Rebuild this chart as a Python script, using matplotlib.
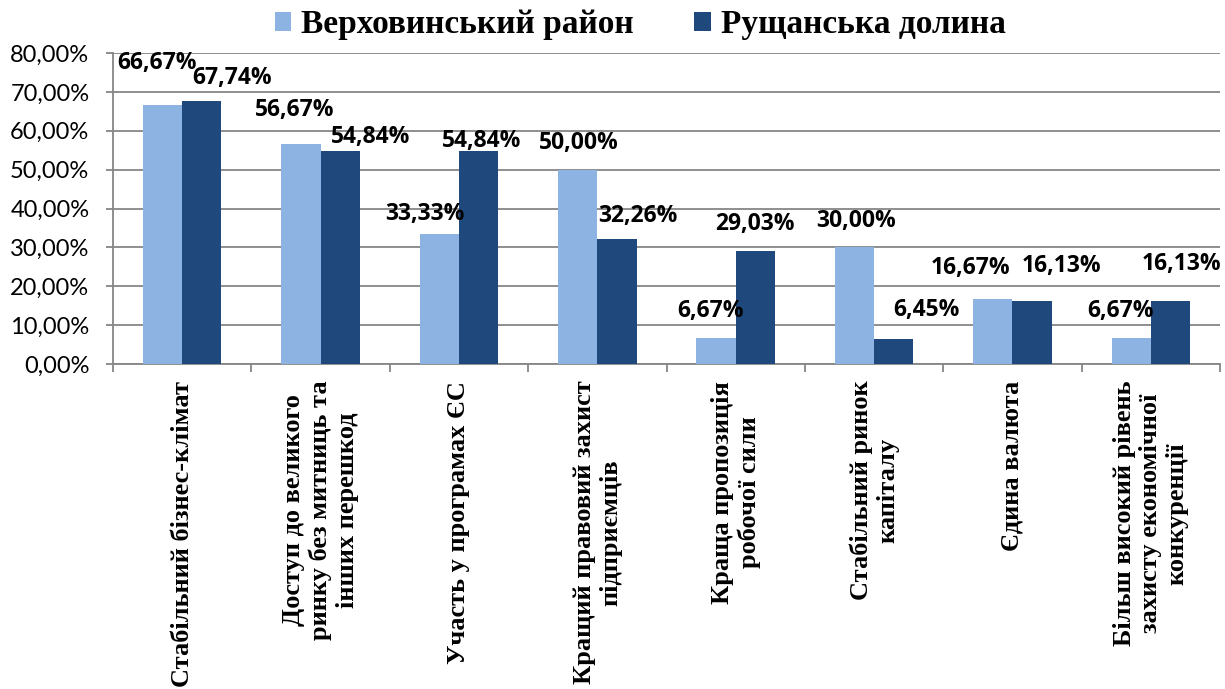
import matplotlib
matplotlib.use("Agg")
import matplotlib.pyplot as plt
import numpy as np

categories = [
    "Стабільний бізнес-клімат",
    "Доступ до великого\nринку без митниць та\nінших перешкод",
    "Участь у програмах ЄС",
    "Кращий правовий захист\nпідприємців",
    "Краща пропозиція\nробочої сили",
    "Стабільний ринок\nкапіталу",
    "Єдина валюта",
    "Більш високий рівень\nзахисту економічної\nконкуренції",
]
series_names = ["Верховинський район", "Рущанська долина"]
verkhovyna = [66.67, 56.67, 33.33, 50.00, 6.67, 30.00, 16.67, 6.67]
rushchanska = [67.74, 54.84, 54.84, 32.26, 29.03, 6.45, 16.13, 16.13]
y_ticks = [0, 10, 20, 30, 40, 50, 60, 70, 80]

colors = ["#8DB3E2", "#1F497D"]
# manual label offsets (pixels) relative to bar top center
off_light = [(-6, 42), (-6, 34), (-14, 20), (1, 27), (-6, 27), (2, 26), (-22, 31), (-11, 27)]
off_dark = [(30, 23), (30, 14), (3, 10), (21, 23), (0, 27), (33, 29), (29, 35), (11, 37)]

W, H = 1225, 689
fig = plt.figure(figsize=(W / 100, H / 100), dpi=100)
ax = fig.add_axes([113 / W, 1 - 364 / H, (1220 - 113) / W, (364 - 53) / H])

x = np.arange(len(categories))
bw = 0.284
b1 = ax.bar(x - bw / 2, verkhovyna, bw, color=colors[0], label=series_names[0], zorder=3)
b2 = ax.bar(x + bw / 2, rushchanska, bw, color=colors[1], label=series_names[1], zorder=3)

ax.set_xlim(-0.5, len(categories) - 0.5)
ax.set_ylim(0, 80)
ax.set_yticks(y_ticks)
ax.set_yticklabels([f"{v:.2f}".replace(".", ",") + "%" for v in y_ticks])
ax.yaxis.grid(True, color="#868686", linewidth=1.3, zorder=0)
ax.set_axisbelow(True)
for s in ["top", "right"]:
    ax.spines[s].set_visible(False)
for s in ["left", "bottom"]:
    ax.spines[s].set_color("#868686")
    ax.spines[s].set_linewidth(1.3)
ax.tick_params(axis="y", length=5, width=1.3, color="#868686", pad=12,
               labelsize=17)
for lab in ax.get_yticklabels():
    lab.set_fontfamily("Lato")
ax.set_xticks(np.arange(len(categories) + 1) - 0.5)
ax.set_xticklabels([])
ax.tick_params(axis="x", length=6, width=1.3, color="#868686")

for i, c in enumerate(categories):
    ax.annotate(c, xy=(i, 0), xycoords=("data", "axes fraction"),
                xytext=(0, -12), textcoords="offset points",
                rotation=90, ha="center", va="top", multialignment="center",
                fontsize=19, fontweight="bold", family="Liberation Serif",
                linespacing=1.2)

def fmt(v):
    return f"{v:.2f}".replace(".", ",") + "%"

for bars, vals, offs in [(b1, verkhovyna, off_light), (b2, rushchanska, off_dark)]:
    for b, v, (dx, dy) in zip(bars, vals, offs):
        ax.annotate(fmt(v), xy=(b.get_x() + b.get_width() / 2, v),
                    xytext=(dx * 0.72, dy * 0.72), textcoords="offset points",
                    ha="center", va="center", fontsize=16.5, fontweight="bold",
                    family="Open Sans", zorder=5)

leg = fig.legend(handles=[b1, b2], labels=series_names, loc="center",
                 bbox_to_anchor=(640 / W, 1 - 25 / H), ncol=2, frameon=False,
                 prop={"family": "Liberation Serif", "weight": "bold", "size": 24},
                 handlelength=0.5, handleheight=0.5, handletextpad=0.3,
                 columnspacing=1.8)

fig.savefig("out.png", dpi=100)
